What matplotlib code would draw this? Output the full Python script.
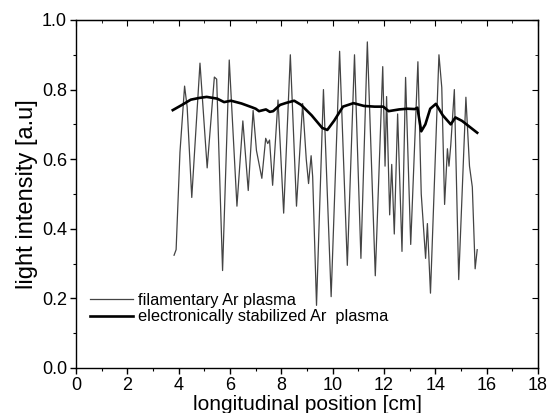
import matplotlib
matplotlib.use("Agg")
import matplotlib.pyplot as plt
from matplotlib.ticker import MultipleLocator

plt.rcParams['font.family'] = ['Liberation Sans', 'DejaVu Sans']

# filamentary Ar plasma
fil_x = [3.82, 3.9, 4.05, 4.23, 4.33, 4.51, 4.83, 5.11, 5.39, 5.48, 5.71, 5.97,
         6.27, 6.5, 6.71, 6.9, 7.03, 7.24, 7.39, 7.47, 7.54, 7.66, 7.87, 8.09,
         8.35, 8.59, 8.83, 8.97, 9.06, 9.16, 9.22, 9.37, 9.64, 9.94, 10.27, 10.57,
         10.85, 11.1, 11.35, 11.66, 11.95, 12.04, 12.1, 12.22, 12.3, 12.4, 12.53,
         12.7, 12.84, 13.04, 13.32, 13.45, 13.62, 13.69, 13.81, 14.14, 14.25,
         14.36, 14.47, 14.53, 14.6, 14.74, 14.91, 15.19, 15.33, 15.44, 15.55, 15.63]
fil_y = [0.324, 0.34, 0.62, 0.81, 0.75, 0.49, 0.876, 0.575, 0.836, 0.83, 0.28, 0.885,
         0.465, 0.71, 0.51, 0.74, 0.625, 0.545, 0.66, 0.645, 0.655, 0.525, 0.77, 0.445,
         0.90, 0.465, 0.76, 0.60, 0.53, 0.61, 0.55, 0.18, 0.80, 0.205, 0.91, 0.295,
         0.90, 0.315, 0.937, 0.265, 0.866, 0.58, 0.78, 0.44, 0.585, 0.385, 0.73,
         0.335, 0.835, 0.355, 0.88, 0.50, 0.315, 0.415, 0.215, 0.90, 0.806,
         0.47, 0.63, 0.58, 0.64, 0.80, 0.254, 0.778, 0.58, 0.52, 0.285, 0.34]

# electronically stabilized Ar plasma
stab_x = [3.77, 4.13, 4.47, 4.8, 5.09, 5.5, 5.77, 6.04, 6.45, 6.86, 7.0, 7.13, 7.4,
          7.55, 7.68, 7.95, 8.2, 8.5, 8.77, 9.18, 9.59, 9.79, 10.06, 10.4, 10.81,
          11.22, 11.63, 11.97, 12.18, 12.59, 12.9, 13.2, 13.3, 13.45, 13.61, 13.8,
          14.02, 14.29, 14.6, 14.78, 15.04, 15.3, 15.63]
stab_y = [0.741, 0.756, 0.771, 0.776, 0.779, 0.774, 0.764, 0.768, 0.760, 0.749, 0.745,
          0.738, 0.743, 0.736, 0.738, 0.756, 0.762, 0.768, 0.756, 0.726, 0.69, 0.684,
          0.711, 0.751, 0.761, 0.753, 0.751, 0.751, 0.738, 0.743, 0.745, 0.744, 0.748,
          0.68, 0.70, 0.745, 0.759, 0.726, 0.70, 0.72, 0.71, 0.695, 0.676]

fig = plt.figure(figsize=(5.48, 4.13), dpi=100)
ax = fig.add_axes([0.1387, 0.109, 0.8431, 0.8426])

ax.plot(fil_x, fil_y, color='#444444', lw=0.9, label='filamentary Ar plasma')
ax.plot(stab_x, stab_y, color='black', lw=1.9, label='electronically stabilized Ar  plasma')

ax.set_xlim(0, 18)
ax.set_ylim(0, 1.0)
ax.xaxis.set_major_locator(MultipleLocator(2))
ax.xaxis.set_minor_locator(MultipleLocator(1))
ax.yaxis.set_minor_locator(MultipleLocator(0.1))
ax.set_yticks([0, 0.2, 0.4, 0.6, 0.8, 1.0])
ax.set_yticklabels(['0.0', '0.2', '0.4', '0.6', '0.8', '1.0'])
ax.tick_params(which='major', direction='out', length=4, width=1, labelsize=13, pad=2.5)
ax.tick_params(which='minor', direction='out', length=2.5, width=0.8)

secx = ax.secondary_xaxis('top')
secx.xaxis.set_major_locator(MultipleLocator(2))
secx.xaxis.set_minor_locator(MultipleLocator(1))
secx.tick_params(which='major', direction='in', length=4, labeltop=False)
secx.tick_params(which='minor', direction='in', length=2.5)
secy = ax.secondary_yaxis('right')
secy.yaxis.set_major_locator(MultipleLocator(0.2))
secy.yaxis.set_minor_locator(MultipleLocator(0.1))
secy.tick_params(which='major', direction='in', length=4, labelright=False)
secy.tick_params(which='minor', direction='in', length=2.5)

for s in ax.spines.values():
    s.set_linewidth(1.0)

ax.set_xlabel('longitudinal position [cm]', fontsize=15, labelpad=1)
ax.set_ylabel('light intensity [a.u]', fontsize=17, labelpad=3)

ax.legend(loc='center left', bbox_to_anchor=(0.017, 0.171), frameon=False,
          fontsize=11.8, handlelength=2.6, handletextpad=0.3, labelspacing=0.1,
          borderaxespad=0)

fig.savefig('out.png', dpi=100)
